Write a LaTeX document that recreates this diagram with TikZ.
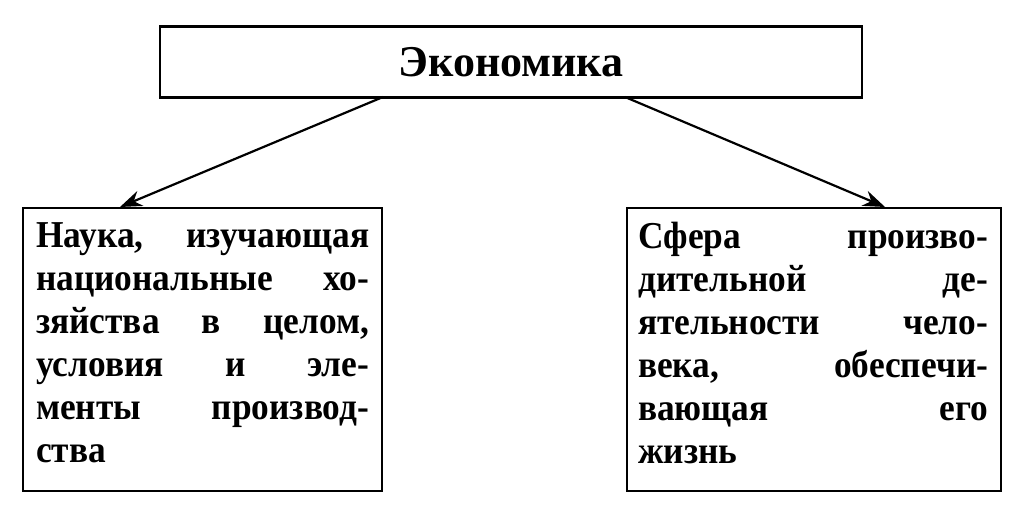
\documentclass[tikz,border=0pt]{standalone}
\usepackage{fontspec}
\usetikzlibrary{arrows.meta}
\setmainfont{Liberation Serif}
\newfontfamily\condfont[FakeStretch=0.93]{Liberation Serif}
\begin{document}
\begin{tikzpicture}[x=1pt,y=-1pt,
  topbox/.style={draw, line width=2.4pt, minimum width=702pt, minimum height=71pt, inner sep=0pt},
  defbox/.style={draw, line width=2.4pt, minimum height=283pt, anchor=north west, inner sep=0pt},
  deftext/.style={anchor=north west, text width=#1, align=justify, inner sep=0pt,
    font=\condfont\bfseries\fontsize{38}{43}\selectfont},
  link/.style={line width=2.2pt, -{Stealth[length=22pt,width=16pt]}}]
\useasboundingbox (0,0) rectangle (1024,524);
% top term
\node[topbox, font=\bfseries\fontsize{44}{48}\selectfont] (econ) at (511,62) {Экономика};
% two meanings
\node[defbox, minimum width=359pt] (science) at (22,207) {};
\node[defbox, minimum width=374pt] (sphere) at (626,207) {};
\node[deftext=333pt] (sciencetxt) at (36,222) {Наука, изучающая\linebreak национальные хо-\linebreak зяйства в целом,\linebreak условия и эле-\linebreak менты производ-\linebreak ства};
\node[deftext=350pt] (spheretxt) at (638,222) {Сфера произво-\linebreak дительной де-\linebreak ятельности чело-\linebreak века, обеспечи-\linebreak вающая его\linebreak жизнь};
% arrows
\coordinate (econL) at (383,97);
\coordinate (econR) at (625,97);
\draw[link] (econL) -- (science.north -| 120,0);
\draw[link] (econR) -- (sphere.north -| 885,0);
\end{tikzpicture}
\end{document}
